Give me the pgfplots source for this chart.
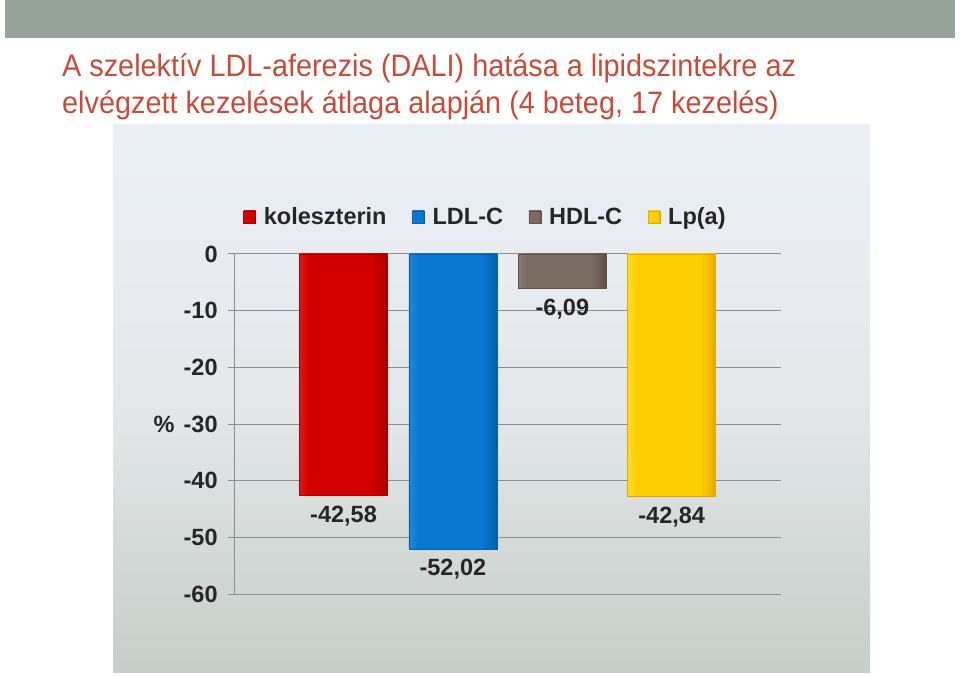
\documentclass[border=0pt]{standalone}
\usepackage{fontspec}
\setmainfont{Liberation Sans}
\newfontfamily\titlefont[FakeStretch=0.93]{Liberation Sans}
\usepackage{pgfplots}
\pgfplotsset{compat=1.18}

\definecolor{band}{HTML}{95A399}
\definecolor{titlered}{HTML}{C84B37}
\definecolor{bgtop}{HTML}{EBEFF7}
\definecolor{bgmid}{HTML}{E5E8EA}
\definecolor{bgbot}{HTML}{C6CEC9}
\definecolor{txt}{HTML}{262626}
\definecolor{gridc}{HTML}{8E8E8E}
% bar colours: light edge, main, dark edge
\definecolor{redL}{HTML}{E01818}\definecolor{redM}{HTML}{D20000}\definecolor{redR}{HTML}{A80000}
\definecolor{bluL}{HTML}{2088DC}\definecolor{bluM}{HTML}{0A78D2}\definecolor{bluR}{HTML}{0560A8}
\definecolor{hdlL}{HTML}{8A7B73}\definecolor{hdlM}{HTML}{7A6B63}\definecolor{hdlR}{HTML}{5F524B}
\definecolor{yelL}{HTML}{FFDA28}\definecolor{yelM}{HTML}{FFD000}\definecolor{yelR}{HTML}{E6A800}

% left-to-right bar shadings: light edge, flat body, dark right edge
\pgfdeclarehorizontalshading{redbar}{100bp}{color(0bp)=(redL); color(25bp)=(redL); color(30bp)=(redM); color(66bp)=(redM); color(75bp)=(redR); color(100bp)=(redR)}
\pgfdeclarehorizontalshading{blubar}{100bp}{color(0bp)=(bluL); color(25bp)=(bluL); color(30bp)=(bluM); color(66bp)=(bluM); color(75bp)=(bluR); color(100bp)=(bluR)}
\pgfdeclarehorizontalshading{hdlbar}{100bp}{color(0bp)=(hdlL); color(25bp)=(hdlL); color(30bp)=(hdlM); color(66bp)=(hdlM); color(75bp)=(hdlR); color(100bp)=(hdlR)}
\pgfdeclarehorizontalshading{yelbar}{100bp}{color(0bp)=(yelL); color(25bp)=(yelL); color(30bp)=(yelM); color(66bp)=(yelM); color(75bp)=(yelR); color(100bp)=(yelR)}

\newcommand{\chartfont}{\fontsize{23.5}{28}\selectfont\bfseries}

\begin{document}
\begin{tikzpicture}[x=1pt,y=1pt]
\path[use as bounding box] (0,0) rectangle (960,676);
% top band
\fill[band] (5,638) rectangle (955,676);
% title
\node[anchor=base west, inner sep=0pt, text=titlered] at (62,599)
  {\titlefont\fontsize{31}{38}\selectfont A szelektív LDL-aferezis (DALI) hatása a lipidszintekre az};
\node[anchor=base west, inner sep=0pt, text=titlered] at (62,562)
  {\titlefont\fontsize{31}{38}\selectfont elvégzett kezelések átlaga alapján (4 beteg, 17 kezelés)};
% chart area background
\shade[top color=bgtop, bottom color=bgbot, middle color=bgmid] (113,3) rectangle (870,551);

\begin{axis}[
  at={(214,144.2)}, anchor=south west,
  scale only axis, width=547pt, height=340.3pt,
  xmin=-1, xmax=4, ymin=-60, ymax=0,
  xtick=\empty,
  ytick={-60,-50,-40,-30,-20,-10,0},
  axis x line=none, axis y line=left,
  y axis line style={-, draw=gridc, line width=0.9pt},
  tick align=outside, major tick length=6pt,
  tick style={draw=gridc, line width=0.9pt},
  ymajorgrids, grid style={draw=gridc, line width=0.9pt},
  /pgf/number format/assume math mode=true,
  yticklabel style={font=\chartfont, text=txt, xshift=-7pt},
  ylabel={\%},
  ylabel style={rotate=-90, at={(axis description cs:0,0.5)}, anchor=east, xshift=-56pt, font=\chartfont, text=txt},
  legend columns=4,
  legend style={at={(axis description cs:0.0165,1.1087)}, anchor=west, draw=none, fill=none,
    inner sep=0pt, font=\chartfont, text=txt,
    /tikz/every odd column/.append style={column sep=6pt},
    /tikz/every even column/.append style={column sep=23.5pt}},
  legend image code/.code={\draw[#1, line width=0.5pt] (0pt,-6pt) rectangle (12pt,6pt);},
  nodes near coords={\pgfmathprintnumber[assume math mode=true,use comma,fixed,fixed zerofill,precision=2]{\pgfplotspointmeta}},
  every node near coord/.append style={font=\chartfont, text=txt, yshift=-6.5pt},
]
\addplot[ybar, bar width=88pt, shading=redbar, draw=redR, line width=0.8pt]
  coordinates {(0,-42.58)};
\addlegendentry{koleszterin}
\addplot[ybar, bar width=88pt, shading=blubar, draw=bluR, line width=0.8pt]
  coordinates {(1,-52.02)};
\addlegendentry{LDL-C}
\addplot[ybar, bar width=88pt, shading=hdlbar, draw=hdlR, line width=0.8pt]
  coordinates {(2,-6.09)};
\addlegendentry{HDL-C}
\addplot[ybar, bar width=88pt, shading=yelbar, draw=yelR, line width=0.8pt]
  coordinates {(3,-42.84)};
\addlegendentry{Lp(a)}
\end{axis}
\end{tikzpicture}
\end{document}
